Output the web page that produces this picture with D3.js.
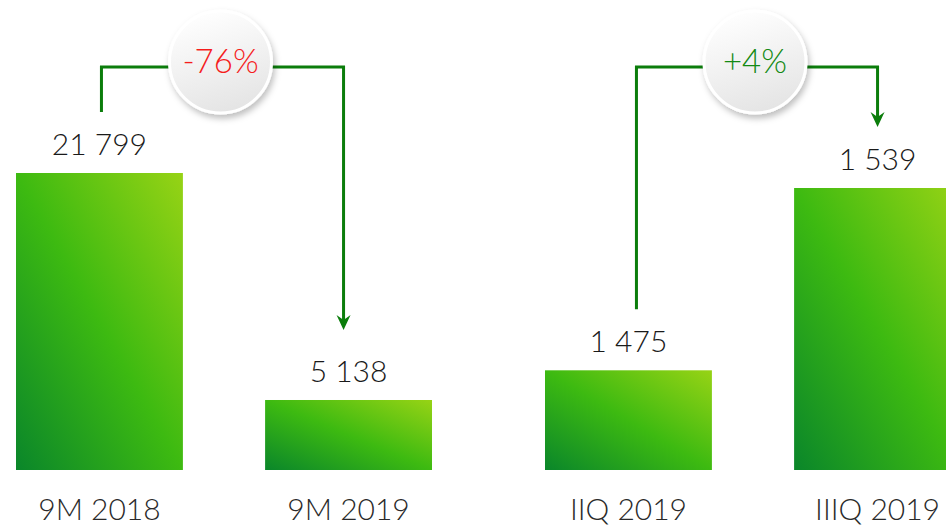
<!DOCTYPE html>
<html>
<head>
<meta charset="utf-8">
<script src="https://cdn.jsdelivr.net/npm/d3@7"></script>
<style>
  html, body { margin: 0; padding: 0; background: #fff; overflow: hidden; }
  svg { display: block; font-family: "Lato Light", Lato, "Open Sans", sans-serif; font-weight: 300; }
</style>
</head>
<body>
<svg id="chart" width="946" height="525"></svg>
<script>
// data
var leftCats = ['9M 2018', '9M 2019'];
var leftVals = [21799, 5138];
var rightCats = ['IIQ 2019', 'IIIQ 2019'];
var rightVals = [1475, 1539];
var changes = ['-76%', '+4%'];
var changeColors = ['#f51d1d', '#138a13'];

var W = 946, H = 525;
var base = 470;
var svg = d3.select('#chart');
var fmt = function(v) { return d3.format(',')(v).replace(/,/g, ' '); };
var lineColor = '#0b7d0b';

// グラデーション
var defs = svg.append('defs');
var grad = defs.append('linearGradient')
    .attr('id', 'barGrad')
    .attr('x1', 0).attr('y1', 1)
    .attr('x2', 1).attr('y2', 0);
grad.append('stop').attr('offset', '0%').attr('stop-color', '#0a862a');
grad.append('stop').attr('offset', '50%').attr('stop-color', '#3dba11');
grad.append('stop').attr('offset', '100%').attr('stop-color', '#97d315');

var cg = defs.append('linearGradient')
    .attr('id', 'circGrad')
    .attr('x1', 0.3).attr('y1', 0)
    .attr('x2', 0.6).attr('y2', 1);
cg.append('stop').attr('offset', '0%').attr('stop-color', '#ffffff');
cg.append('stop').attr('offset', '100%').attr('stop-color', '#e4e4e4');

var sh = defs.append('filter').attr('id', 'shadow')
    .attr('x', '-30%').attr('y', '-30%').attr('width', '160%').attr('height', '160%');
sh.append('feDropShadow')
    .attr('dx', 2).attr('dy', 4).attr('stdDeviation', 3)
    .attr('flood-color', '#000').attr('flood-opacity', 0.25);

// スケール
var xLeft = d3.scaleBand().domain(leftCats).range([16, 432]).paddingInner(0.33);
var xRight = d3.scaleBand().domain(rightCats).range([545, 961]).paddingInner(0.33);
var yLeft = d3.scaleLinear().domain([0, 21799]).range([base, 173]);
var yRight = d3.scaleLinear().domain([1440, 1539]).range([base, 188]);

var groups = [
  { cats: leftCats, vals: leftVals, x: xLeft, y: yLeft, change: changes[0], color: changeColors[0],
    dx0: 2, dx1: -5, tip: 70 },
  { cats: rightCats, vals: rightVals, x: xRight, y: yRight, change: changes[1], color: changeColors[1],
    dx0: 8, dx1: 0, tip: 61 }
];

groups.forEach(function(g) {
  var data = g.cats.map(function(c, i) { return { cat: c, val: g.vals[i] }; });
  var gg = svg.append('g');

  gg.selectAll('rect')
    .data(data)
    .enter()
    .append('rect')
    .attr('x', function(d) { return g.x(d.cat); })
    .attr('y', function(d) { return g.y(d.val); })
    .attr('width', g.x.bandwidth())
    .attr('height', function(d) { return base - g.y(d.val); })
    .attr('fill', 'url(#barGrad)');

  gg.selectAll('text.val')
    .data(data)
    .enter()
    .append('text')
    .attr('class', 'val')
    .attr('x', function(d) { return g.x(d.cat) + g.x.bandwidth() / 2; })
    .attr('y', function(d) { return g.y(d.val) - 18; })
    .attr('text-anchor', 'middle')
    .style('font-size', '30px')
    .style('fill', '#1a1a1a')
    .text(function(d) { return fmt(d.val); });

  gg.selectAll('text.cat')
    .data(data)
    .enter()
    .append('text')
    .attr('class', 'cat')
    .attr('x', function(d) { return g.x(d.cat) + g.x.bandwidth() / 2; })
    .attr('y', 520)
    .attr('text-anchor', 'middle')
    .style('font-size', '30px')
    .style('fill', '#2a2a2a')
    .text(function(d) { return d.cat; });

  // 矢印
  var x0 = g.x(g.cats[0]) + g.x.bandwidth() / 2 + g.dx0;
  var x1 = g.x(g.cats[1]) + g.x.bandwidth() / 2 + g.dx1;
  var yTop = 67;
  var yStart = g.y(g.vals[0]) - 61;
  var yTip = g.y(g.vals[1]) - g.tip;
  gg.append('path')
    .attr('d', 'M' + x0 + ',' + yStart + ' V' + yTop + ' H' + x1 + ' V' + (yTip - 8))
    .attr('fill', 'none')
    .attr('stroke', lineColor)
    .attr('stroke-width', 3);
  gg.append('path')
    .attr('d', 'M' + (x1 - 7) + ',' + (yTip - 15) + ' L' + x1 + ',' + (yTip - 10) +
               ' L' + (x1 + 7) + ',' + (yTip - 15) + ' L' + x1 + ',' + yTip + ' Z')
    .attr('fill', lineColor);

  var cx = (x0 + x1) / 2 - 2;
  gg.append('circle')
    .attr('cx', cx).attr('cy', 62).attr('r', 51)
    .attr('fill', 'url(#circGrad)')
    .attr('stroke', '#fff')
    .attr('stroke-width', 3)
    .attr('filter', 'url(#shadow)');

  gg.append('text')
    .attr('x', cx).attr('y', 73)
    .attr('text-anchor', 'middle')
    .style('font-size', '33px')
    .style('fill', g.color)
    .text(g.change);
});
</script>
</body>
</html>
